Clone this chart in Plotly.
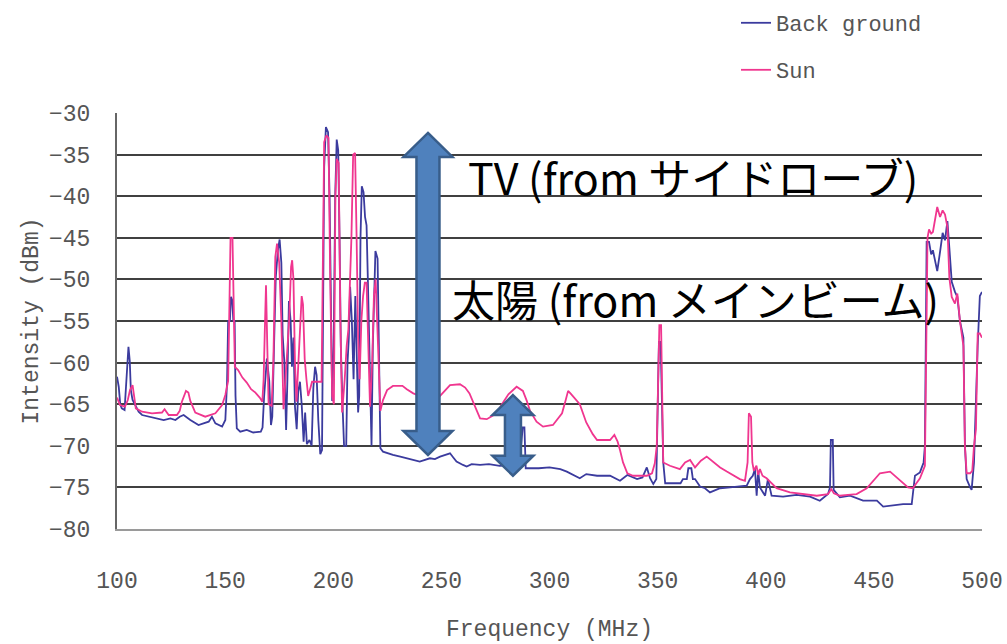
import plotly.graph_objects as go

# ---------------- data ----------------
bg_freq = [100, 100.8, 101.5, 102.2, 103.5, 104.3, 104.7, 105.3, 105.9, 106.4, 107.2, 108.3, 110, 111.6,
           114.6, 117.7, 121.6, 124.7, 127, 129, 130.8, 133.9, 137.7, 140, 142.4, 143.9, 145.5, 148.6,
           150.1, 150.9, 151.4, 152.2, 152.7, 153.3, 153.8, 154.4, 154.8, 155.4, 157, 160, 163, 166.5,
           167.3, 168, 168.8, 169.3, 170.4, 171.2, 171.8, 172.6, 173.4, 174.4, 175.2, 176, 176.6, 177.4,
           178.2, 178.8, 179.5, 180.3, 180.9, 181.6, 182.3, 183.1, 183.8, 184.6, 185.4, 186.3, 187,
           187.8, 189, 190, 190.8, 191.6, 192.3, 193.1, 194, 194.8, 195.3, 195.8, 196.6, 197.6, 198.3,
           198.8, 199.5, 200.2, 200.9, 201.6, 202.3, 202.9, 203.5, 204.2, 205, 206, 206.6, 207.2, 207.8,
           208.6, 209.4, 210.2, 210.9, 211.5, 212, 212.6, 213.2, 214, 214.7, 215.4, 216, 216.6, 217.2,
           217.7, 218.3, 219, 219.5, 220.5, 221.2, 221.8, 223, 224.9, 227.6, 231, 234, 237, 240, 244.7,
           247, 249.4, 252, 254, 255.5, 257, 260, 261.7, 264, 267.9, 272, 277, 282, 286, 287.6, 288.4,
           289, 295, 300, 305, 308, 311, 314, 317, 322, 328, 332.6, 336, 340.5, 343, 345, 346.5, 348,
           349.4, 350, 350.6, 351.4, 352, 352.6, 353.5, 357, 360.6, 361.7, 363.5, 364.2, 365.6, 366.3,
           367.3, 369.6, 371.9, 374.2, 378.9, 383.5, 388, 391.2, 392.7, 394, 395, 395.8, 396.5, 397.3,
           399.7, 401, 402.7, 408, 414.3, 420.5, 425, 428.8, 429.7, 430.1, 431, 431.4, 434.3, 439, 445,
           451.4, 454.3, 457.5, 463.5, 467.5, 469, 471.3, 473, 473.6, 474.4, 475.5, 476.5, 477.3, 478.3,
           479.3, 480.6, 481.8, 482.9, 484, 484.9, 486, 487.5, 488.6, 489.8, 491.4, 492.1, 492.9, 494.5,
           495.2, 496.3, 497.2, 498, 499, 500]
bg_dbm = [-61.7, -62.9, -65.0, -65.5, -65.7, -62, -59.7, -58.1, -59.8, -63.3, -64.5, -65.1, -65.9, -66.3,
          -66.5, -66.7, -66.9, -66.7, -66.9, -66.5, -66.3, -66.9, -67.5, -67.3, -67.1, -66.5, -67.3, -67.7,
          -66.9, -62.3, -55, -55, -52.1, -52.5, -55, -55, -64, -67.9, -68.3, -68.1, -68.4, -68.3,
          -67.8, -64.2, -61.5, -59.5, -62.2, -67.5, -66.5, -58.3, -49.8, -46.5, -45.2, -48, -56.7, -60,
          -68.1, -62, -52.6, -55, -60.5, -57, -65.3, -68, -63.5, -62.3, -65, -69.5, -66,
          -69.8, -69.3, -70, -63, -60.5, -61.5, -67, -71, -70.5, -50, -36.5, -31.7, -32.3, -40,
          -49, -64.6, -58, -40, -33.2, -34.5, -45, -58, -64.5, -70, -70, -60, -57, -50.9,
          -55, -62, -52, -58, -66, -64, -45, -38.8, -39.5, -42.5, -43.5, -50, -57, -65,
          -70, -58, -50, -46.6, -47.5, -58, -70.3, -70.7, -70.9, -71.1, -71.3, -71.5, -71.7, -71.9, -71.5,
          -71.6, -71.3, -71.1, -70.9, -71.4, -71.9, -72.3, -72.5, -72.2, -72.3, -72.2, -72.4, -72.3, -72.6, -67.8, -67.8,
          -72.7, -72.7, -72.6, -72.8, -73.1, -73.5, -73.9, -73.4, -73.6, -73.6, -74.2, -73.5, -74, -73.8, -72.6, -73.9, -74.6,
          -74, -65, -57.5, -57.5, -66, -72, -74.5, -74.5, -74.5, -74, -74, -72.7, -72.7, -74,
          -74, -74.9, -75.1, -75.6, -75.1, -75, -74.9, -74.8, -74, -73.6, -72.8, -76, -73, -75,
          -76, -74, -76, -76.1, -75.9, -76.1, -76.6, -75.8, -75, -69.3, -69.3, -75.3, -76.2, -76, -76.6,
          -76.6, -77.3, -77.2, -77, -77, -73.6, -73.2, -72, -70, -45.5, -45.5, -47, -46.5, -48,
          -49, -46.7, -44.4, -45.3, -43, -46.2, -50.3, -51.5, -52.1, -55, -57, -70, -74, -75,
          -75.3, -72, -62.7, -58, -52, -51.5]

sun_freq = [100, 100.7, 101.4, 103.7, 105, 106, 107.2, 107.9, 108.7, 111.6, 116.2, 120.8, 122, 123.9,
            127.7, 129, 130, 131.9, 133, 133.9, 136.2, 140.8, 145.5, 148.6, 150.1, 151.4, 152, 152.5,
            153.4, 154, 154.5, 156, 158, 160, 162, 164, 166, 167.2, 167.8, 168.3, 168.9, 169.5, 170.1,
            171.5, 172.3, 173.2, 174, 175, 176, 177, 177.8, 178.7, 179.6, 180.5, 181, 181.6, 182.3, 183,
            184.2, 185.4, 186, 186.8, 187.6, 188.4, 189.5, 190.2, 194.6, 195.2, 195.8, 196.8, 197.8,
            198.6, 199.5, 200.3, 201, 201.6, 202.5, 203.3, 204.1, 205.3, 206.2, 207, 207.6, 208.4, 209.2,
            210.1, 210.8, 211.5, 212.2, 213, 213.8, 214.6, 215.4, 216.2, 217, 218, 218.8, 219.6, 220.4,
            221.2, 221.8, 223, 224.9, 227.6, 232, 234, 237, 240, 243, 246, 249.4, 252, 254, 258.6, 261,
            263, 265, 267.9, 271, 275.6, 278, 281, 284.8, 287.7, 289.5, 291, 294, 297, 301.6, 305.8,
            307.5, 308.6, 310, 311.8, 314, 317, 320, 322, 325, 328, 330, 331.5, 332.6, 334, 336, 338.6,
            342, 345, 347.4, 348.7, 349.6, 350.3, 350.8, 351.6, 352.2, 352.6, 355.7, 358, 360.3, 362.7,
            365, 367.3, 370, 372.7, 375, 378.9, 382, 385, 388, 390.4, 391.6, 392.2, 393.2, 393.8, 394.5,
            395.7, 396.5, 397.3, 398.5, 400.4, 405, 411.2, 417.2, 423.6, 428.8, 430.3, 431.5, 434.3, 438,
            442, 446.7, 450, 452.8, 457.5, 461, 465.8, 468, 471.3, 473.6, 474.3, 474.8, 475.5, 476.5,
            477.3, 478.3, 479.3, 480.6, 481.8, 482.9, 484, 484.9, 486, 487.5, 488.6, 489.8, 491.4, 492.1,
            492.9, 494.5, 495.5, 496.3, 497.2, 498, 499, 500]
sun_dbm = [-64.2, -64.8, -65.1, -65.3, -64.5, -63.3, -62.7, -64, -65.5, -65.9, -66.1, -66, -65.6, -66.3,
           -66.3, -65.8, -64.7, -63.4, -63.6, -64.6, -66, -66.5, -66.1, -65.1, -63.9, -62.2, -52, -45,
           -45, -55, -60.5, -60.9, -61.8, -62.4, -63.2, -63.6, -64.2, -64.7, -62, -56.7, -50.7, -58, -65,
           -65.2, -60, -47.3, -45.7, -48, -55, -65.6, -62, -58, -55, -48.5, -47.7, -50, -60, -64.7,
           -58, -52, -53, -59.6, -62, -64, -63, -62.3, -62.3, -45, -33.5, -32.7, -33,
           -50, -64, -65, -40, -35.5, -36, -55, -66, -62, -58, -56, -52, -45, -35,
           -34.8, -45, -57, -62, -55, -52, -50.4, -50.4, -57, -65.3, -60, -52, -50, -56,
           -62, -65.8, -64.5, -63.3, -62.8, -62.8, -63.2, -63.7, -64, -63.8, -63.6, -64, -63.2, -62.7, -62.6, -63,
           -63.7, -65, -66.7, -66.8, -66.1, -65, -63.8, -62.9, -63.4, -64.6, -65.8, -67.1, -67.7, -67.5, -66.1,
           -64.5, -63.4, -63.8, -64.4, -65, -67.2, -68.6, -69.3, -69.3, -69.3, -68.7, -69.5, -70.5, -72, -73.3, -73.6,
           -73.6, -73.6, -73.3, -72.1, -70, -60, -55.5, -55.5, -64, -72, -72.4, -72.6, -72.8, -72,
           -71.7, -72.6, -71.8, -71.3, -71.8, -72.6, -73.1, -73.6, -74, -74.2, -72, -66.1, -66.5, -72, -73,
           -72.4, -73.5, -72.8, -73.6, -73.9, -75.1, -75.6, -75.8, -76, -75.8, -75.2, -75.7, -76, -75.9,
           -75.8, -75.1, -74.1, -73.3, -73.1, -73.9, -75, -75.1, -73.9, -72.4, -60, -45, -44, -44.5,
           -44.3, -42.8, -41.3, -42.5, -41.7, -42.2, -43.7, -49.8, -52.1, -52.9, -51.7, -55, -58, -70,
           -73.3, -73.3, -73, -70, -68, -56.5, -56.5, -57]

series_names = ["Back ground", "Sun"]
x_ticks = [100, 150, 200, 250, 300, 350, 400, 450, 500]
y_ticks = [-80, -75, -70, -65, -60, -55, -50, -45, -40, -35, -30]
x_title = "Frequency (MHz)"
y_title = "Intensity (dBm)"
label_tv = "TV (from サイドローブ)"
label_sun = "太陽 (from メインビーム)"

# ---------------- styles / layout ----------------
W, H = 1007, 644
M_L, M_R, M_T, M_B = 117, 25, 113, 115
X_RANGE = [100, 500]
Y_RANGE = [-80, -30]
px_x = (W - M_L - M_R) / (X_RANGE[1] - X_RANGE[0])
px_y = (H - M_T - M_B) / (Y_RANGE[1] - Y_RANGE[0])

AX_FONT = dict(family="Liberation Mono, DejaVu Sans Mono, monospace", size=23, color="#555555")
BLUE = "#3b3b9e"
PINK = "#f0368f"

fig = go.Figure()
fig.add_trace(go.Scatter(x=bg_freq, y=bg_dbm, mode="lines", name=series_names[0],
                         line=dict(color=BLUE, width=1.8), legend="legend"))
fig.add_trace(go.Scatter(x=sun_freq, y=sun_dbm, mode="lines", name=series_names[1],
                         line=dict(color=PINK, width=1.8), legend="legend2"))


def arrow_path(cx, top, bot, head_half_px, shaft_half_px, head_len_px):
    hw = head_half_px / px_x
    sw = shaft_half_px / px_x
    hl = head_len_px / px_y
    pts = [(cx, top), (cx + hw, top - hl), (cx + sw, top - hl), (cx + sw, bot + hl),
           (cx + hw, bot + hl), (cx, bot), (cx - hw, bot + hl), (cx - sw, bot + hl),
           (cx - sw, top - hl), (cx - hw, top - hl)]
    return "M " + " L ".join(f"{x},{y}" for x, y in pts) + " Z"


# double arrows (annotation graphics)
fig.add_shape(type="path", path=arrow_path(243.8, -32.4, -71.1, 24.5, 11.5, 24),
              xref="x", yref="y", fillcolor="#4f81bd", line=dict(color="#385d8a", width=2.5),
              layer="above")
fig.add_shape(type="path", path=arrow_path(283.1, -63.9, -73.6, 20.5, 8, 20),
              xref="x", yref="y", fillcolor="#4f81bd", line=dict(color="#385d8a", width=2.5),
              layer="above")

TXT_FONT = dict(family="Noto Sans CJK JP", size=43, color="#000000")
fig.add_annotation(x=366.4, y=-37.6, xref="x", yref="y", text=label_tv, showarrow=False,
                   font=TXT_FONT, xanchor="center", yanchor="middle")
fig.add_annotation(x=367.3, y=-52.2, xref="x", yref="y", text=label_sun, showarrow=False,
                   font=TXT_FONT, xanchor="center", yanchor="middle")

fig.update_layout(
    width=W, height=H,
    margin=dict(l=M_L, r=M_R, t=M_T, b=M_B, autoexpand=False),
    paper_bgcolor="white", plot_bgcolor="white",
    showlegend=True,
    legend=dict(xref="container", yref="container", x=736 / W, y=1 - 23 / H,
                xanchor="left", yanchor="middle", bgcolor="rgba(0,0,0,0)",
                font=dict(family=AX_FONT["family"], size=22, color="#555555"),
                itemwidth=30),
    legend2=dict(xref="container", yref="container", x=736 / W, y=1 - 70 / H,
                 xanchor="left", yanchor="middle", bgcolor="rgba(0,0,0,0)",
                 font=dict(family=AX_FONT["family"], size=22, color="#555555"),
                 itemwidth=30),
    xaxis=dict(range=X_RANGE, tickvals=x_ticks, showgrid=False, zeroline=False,
               showline=True, linecolor="#9a9a9a", linewidth=2, ticks="",
               tickfont=AX_FONT, ticklabelstandoff=29,
               title=dict(text=x_title, font=AX_FONT, standoff=26)),
    xaxis2=dict(range=X_RANGE, tickvals=x_ticks, overlaying="x", side="top", anchor="y",
                showgrid=False, zeroline=False, showline=True, linecolor="#444444", linewidth=2,
                ticks="outside", ticklen=7, tickwidth=2, tickcolor="#444444",
                showticklabels=False),
    yaxis=dict(range=Y_RANGE, tickvals=y_ticks, showgrid=True, gridcolor="#404040", gridwidth=2,
               zeroline=False, showline=True, linecolor="#666666", linewidth=2, ticks="",
               tickfont=AX_FONT, ticklabelstandoff=20,
               title=dict(text=y_title, font=AX_FONT, standoff=4)),
    yaxis2=dict(range=Y_RANGE, overlaying="y", side="right", anchor="x",
                showgrid=False, zeroline=False, showline=True, linecolor="#bbbbbb", linewidth=2,
                showticklabels=False, ticks=""),
)

fig.write_html("out.html")
